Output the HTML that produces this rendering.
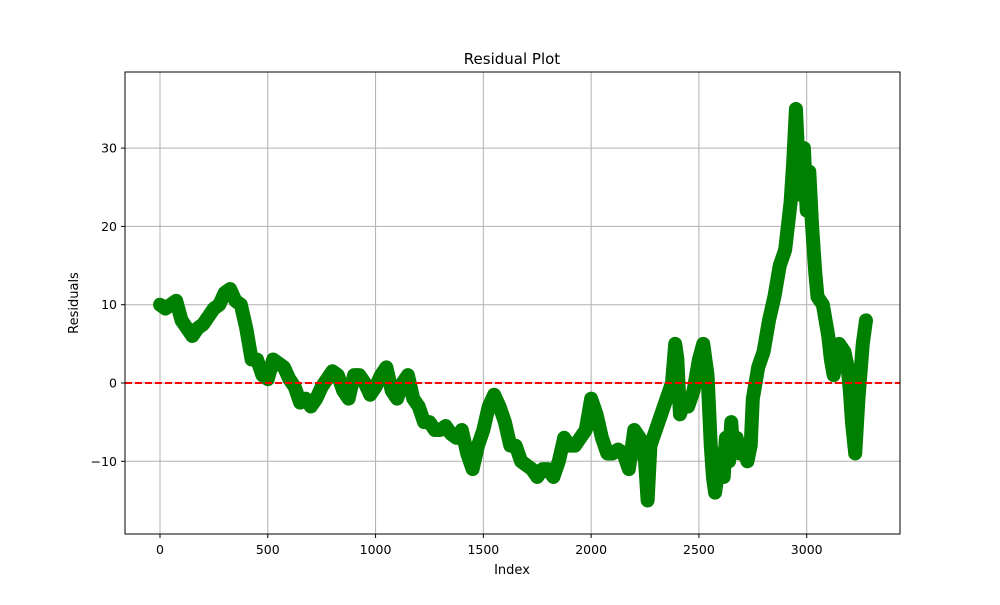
<!DOCTYPE html>
<html><head><meta charset="utf-8"><style>
body{margin:0;background:#fff;font-family:"Liberation Sans","DejaVu Sans",sans-serif}
</style></head><body>
<svg id="chart" width="1000" height="600" xmlns="http://www.w3.org/2000/svg" font-family="DejaVu Sans, Liberation Sans, sans-serif">
<rect width="1000" height="600" fill="#fff"/>
<g id="grid"></g>
<g id="series"></g>
<line id="zero" stroke="#ff0000" stroke-width="2" stroke-dasharray="7,3"/>
<rect x="125" y="72" width="775" height="462" fill="none" stroke="#000" stroke-width="1"/>
<g id="ticks" font-size="12.5"></g>
<text x="512" y="64" text-anchor="middle" font-size="15">Residual Plot</text>
<text x="512" y="574" text-anchor="middle" font-size="13">Index</text>
<text x="78" y="303" text-anchor="middle" font-size="13" transform="rotate(-90 78 303)">Residuals</text>
</svg>
<script>
const xTicks=[0,500,1000,1500,2000,2500,3000];
const yTicks=[-10,0,10,20,30];
const indexValues=[0,25,50,75,100,125,150,175,200,225,250,275,300,325,350,375,400,425,450,475,500,525,550,575,600,625,650,675,700,725,750,775,800,825,850,875,900,925,950,975,1000,1025,1050,1075,1100,1125,1150,1175,1200,1225,1250,1275,1300,1325,1350,1375,1400,1425,1450,1475,1500,1525,1550,1575,1600,1625,1650,1675,1700,1725,1750,1775,1800,1825,1850,1875,1900,1925,1950,1975,2000,2025,2050,2075,2100,2125,2150,2175,2200,2225,2250,2262,2275,2300,2325,2350,2375,2390,2400,2412,2425,2450,2475,2500,2520,2540,2555,2565,2575,2590,2600,2615,2625,2640,2650,2660,2675,2690,2700,2725,2740,2750,2775,2800,2825,2850,2875,2900,2925,2937,2950,2962,2975,2987,3000,3012,3025,3040,3050,3075,3100,3112,3125,3150,3175,3190,3200,3210,3225,3240,3260,3275];
const residualValues=[10,9.5,10,10.5,8,7,6,7,7.5,8.5,9.5,10,11.5,12,10.5,10,7,3,3,1,0.5,3,2.5,2,0.5,-0.5,-2.5,-2,-3,-2,-0.5,0.5,1.5,1,-1,-2,1,1,0,-1.5,-0.5,1,2,-1,-2,0,1,-2,-3,-5,-5,-6,-6,-5.5,-6.5,-7,-6,-9,-11,-8,-6,-3,-1.5,-3,-5,-8,-8,-10,-10.5,-11,-12,-11,-11,-12,-10,-7,-8,-8,-7,-6,-2,-4,-7,-9,-9,-8.5,-9,-11,-6,-7,-10,-15,-8,-6,-4,-2,0,5,3,-4,-3,-3,-1,3,5,1,-8,-12,-14,-11,-9,-12,-7,-10,-5,-9,-7,-9,-8,-10,-8,-2,2,4,8,11,15,17,23,28,35,28,24,30,22,27,20,14,11,10,6,3,1,5,4,2,-1,-5,-9,-2,5,8,7];
const NS='http://www.w3.org/2000/svg';
const X=v=>160+v*0.21557, Y=v=>383-v*7.83;
const grid=document.getElementById('grid'), ticks=document.getElementById('ticks'), ser=document.getElementById('series');
function mk(t,a,p){const e=document.createElementNS(NS,t);for(const k in a)e.setAttribute(k,a[k]);p.appendChild(e);return e;}
xTicks.forEach(t=>{
 const l=mk('line',{x1:X(t),x2:X(t),y1:72,y2:534,stroke:'#b0b0b0','stroke-width':1},grid);
 
 
 mk('line',{x1:X(t),x2:X(t),y1:534,y2:538,stroke:'#000'},ticks);
 const tx=mk('text',{x:X(t),y:554,'text-anchor':'middle'},ticks);tx.textContent=t;
 
 
});
yTicks.forEach(t=>{
 const l=mk('line',{x1:125,x2:900,y1:Y(t),y2:Y(t),stroke:'#b0b0b0','stroke-width':1},grid);
 
 
 mk('line',{x1:121,x2:125,y1:Y(t),y2:Y(t),stroke:'#000'},ticks);
 const tx=mk('text',{x:117,y:Y(t)+4.5,'text-anchor':'end'},ticks);tx.textContent=t===-10?'\u221210':t;
 
 
});
const z=document.getElementById('zero');z.setAttribute('x1',125);z.setAttribute('x2',900);z.setAttribute('y1',Y(0));z.setAttribute('y2',Y(0));
const pts=indexValues.map((x,i)=>X(x)+','+Y(residualValues[i])).join(' ');
const pl=mk('polyline',{points:pts,fill:'none',stroke:'#008000','stroke-width':14,'stroke-linejoin':'round','stroke-linecap':'round'},ser);


indexValues.forEach((x,i)=>{
 const c=mk('circle',{cx:X(x),cy:Y(residualValues[i]),r:6,fill:'#008000'},ser);
 
 
});
</script>
</body></html>
